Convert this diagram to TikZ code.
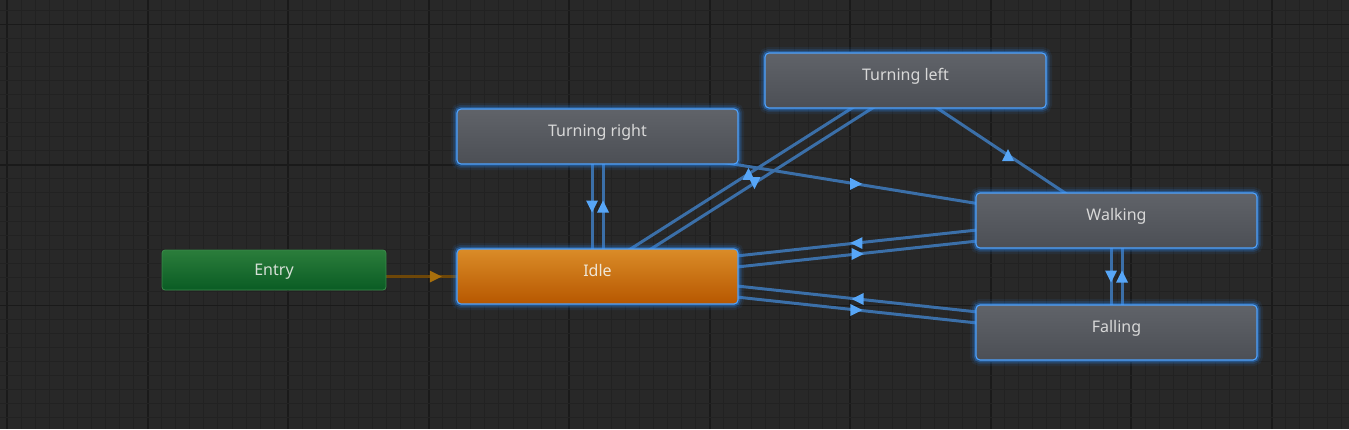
\documentclass[tikz,border=0pt]{standalone}
\usepackage{fontspec}
\setmainfont{Noto Sans}
\usetikzlibrary{calc,decorations.markings}
\pgfdeclarelayer{gridlayer}
\pgfdeclarelayer{edgelayer}
\pgfsetlayers{gridlayer,edgelayer,main}
\definecolor{bgc}{HTML}{282828}
\definecolor{minorc}{HTML}{222222}
\definecolor{majorc}{HTML}{1A1A1A}
\definecolor{glowc}{HTML}{2D86E8}
\definecolor{bordc}{HTML}{4FA3FF}
\definecolor{graytop}{HTML}{606369}
\definecolor{graybot}{HTML}{4C4F55}
\definecolor{orangetop}{HTML}{DA8C28}
\definecolor{orangebot}{HTML}{B75700}
\definecolor{greentop}{HTML}{2B7D3B}
\definecolor{greenbot}{HTML}{0A5C24}
\definecolor{greenbord}{HTML}{3B8A4A}
\definecolor{transc}{HTML}{3B6FA8}
\definecolor{arrowc}{HTML}{57A6F7}
\definecolor{entrylinec}{HTML}{6E4708}
\definecolor{entryarrowc}{HTML}{A86F0C}
\definecolor{textc}{HTML}{D8D8D8}
\definecolor{idletextc}{HTML}{EFE6D6}
\definecolor{entrytextc}{HTML}{D6DFD6}
\newcommand\tedge[4]{%
  \draw[trans,#1] ($(#2.center)!#4!-90:(#3.center)$) -- ($(#3.center)!#4!90:(#2.center)$);}
\begin{document}
\begin{tikzpicture}[x=1pt,y=-1pt,
  minorline/.style={draw=minorc,line width=1pt},
  majorline/.style={draw=majorc,line width=1.6pt},
  statebox/.style={rounded corners=4pt,minimum width=281pt,minimum height=55pt,inner sep=0pt,
    text height=8pt,text depth=9pt,font=\fontsize{16}{18}\selectfont,text=textc,
    preaction={draw=glowc,line width=12pt,opacity=0.08},
    preaction={draw=glowc,line width=8pt,opacity=0.16},
    preaction={draw=glowc,line width=4.5pt,opacity=0.4},
    top color=graytop,bottom color=graybot,draw=bordc,line width=1.1pt},
  idlebox/.style={statebox,top color=orangetop,bottom color=orangebot,text=idletextc},
  entrybox/.style={rounded corners=3pt,minimum width=224pt,minimum height=40pt,inner sep=0pt,
    text height=11pt,text depth=0pt,font=\fontsize{16}{18}\selectfont,text=entrytextc,
    top color=greentop,bottom color=greenbot,draw=greenbord,line width=0.8pt},
  trans/.style={draw=transc,line width=3pt},
  arr/.style={postaction={decorate,decoration={markings,mark=at position 0.5 with
    {\fill[arrowc,rotate=#1] (6,0) -- (-6,6) -- (-6,-6) -- cycle;}}}},
  entrytrans/.style={draw=entrylinec,line width=3pt,
    postaction={decorate,decoration={markings,mark=at position 0.5 with
    {\fill[entryarrowc] (6,0) -- (-6,6) -- (-6,-6) -- cycle;}}}}
]
\useasboundingbox (0,0) rectangle (1349,429);
\begin{pgfonlayer}{gridlayer}
  \fill[bgc] (0,0) rectangle (1349,429);
  \foreach \k in {-1,...,95}{
    \pgfmathsetmacro\xx{7.2+14.05*\k}
    \pgfmathtruncatemacro\mm{mod(\k+100,10)}
    \ifnum\mm=0 \draw[majorline] (\xx,0) -- (\xx,429);\else\draw[minorline] (\xx,0) -- (\xx,429);\fi
  }
  \foreach \k in {-2,...,29}{
    \pgfmathsetmacro\yy{24.3+14.05*\k}
    \pgfmathtruncatemacro\mm{mod(\k+100,10)}
    \ifnum\mm=0 \draw[majorline] (0,\yy) -- (1349,\yy);\else\draw[minorline] (0,\yy) -- (1349,\yy);\fi
  }
\end{pgfonlayer}

\node[entrybox] (entry) at (274,270) {Entry};
\node[idlebox] (idle) at (597.5,276.5) {Idle};
\node[statebox] (tr) at (597.5,136.5) {Turning right};
\node[statebox] (tl) at (905.5,80.5) {Turning left};
\node[statebox] (walk) at (1116.5,220.5) {Walking};
\node[statebox] (fall) at (1116.5,332.5) {Falling};

\begin{pgfonlayer}{edgelayer}
  \draw[entrytrans] (entry.center |- idle.center) -- (idle.center);
  \tedge{arr=0}{idle}{tr}{5.5pt}
  \tedge{arr=0}{tr}{idle}{5.5pt}
  \tedge{arr=57.5}{idle}{tl}{-5.5pt}
  \tedge{arr=57.5}{tl}{idle}{-5.5pt}
  \tedge{arr=9.2}{tr}{walk}{5.5pt}
  \tedge{arr=123.6}{tl}{walk}{5.5pt}
  \tedge{arr=-6.2}{idle}{walk}{5.5pt}
  \tedge{arr=-6.2}{walk}{idle}{5.5pt}
  \tedge{arr=6.2}{idle}{fall}{5.5pt}
  \tedge{arr=6.2}{fall}{idle}{5.5pt}
  \tedge{arr=0}{walk}{fall}{5.5pt}
  \tedge{arr=0}{fall}{walk}{5.5pt}
\end{pgfonlayer}
\end{tikzpicture}
\end{document}
